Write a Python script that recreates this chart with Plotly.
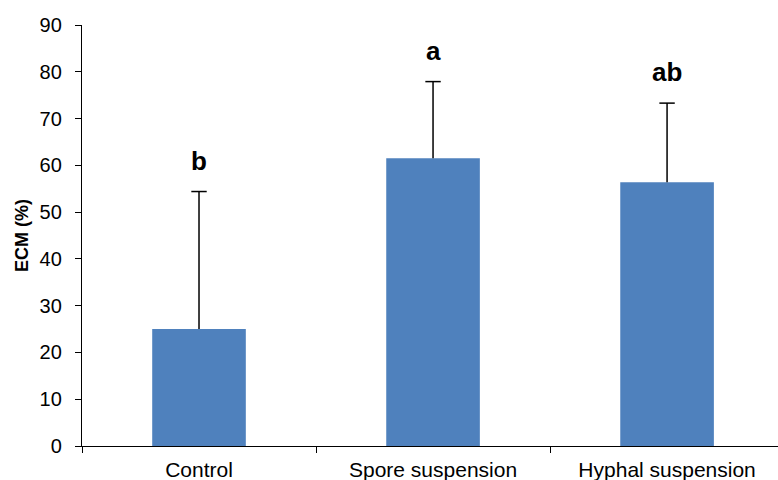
import plotly.graph_objects as go

categories = ["Control", "Spore suspension", "Hyphal suspension"]
ecm_mean = [25.0, 61.5, 56.4]
ecm_err = [29.4, 16.4, 16.9]
sig_letters = ["b", "a", "ab"]
y_ticks = [0, 10, 20, 30, 40, 50, 60, 70, 80, 90]

FONT = "Arial, Liberation Sans, sans-serif"
err_top = [m + e for m, e in zip(ecm_mean, ecm_err)]

fig = go.Figure()
fig.add_trace(go.Bar(
    x=categories,
    y=ecm_mean,
    width=0.4,
    marker=dict(color="#4F81BD", line=dict(width=0)),
    error_y=dict(type="data", symmetric=False, array=ecm_err,
                 arrayminus=[0] * len(ecm_err),
                 color="black", thickness=1.5, width=0),
    showlegend=False,
))
# top caps of the error bars
fig.add_trace(go.Scatter(
    x=categories, y=err_top, mode="markers",
    marker=dict(symbol="line-ew-open", size=11, color="black",
                line=dict(width=1.5, color="black")),
    showlegend=False, hoverinfo="skip",
))

for cat, t, lab in zip(categories, err_top, sig_letters):
    fig.add_annotation(x=cat, y=t, text=f"<b>{lab}</b>", showarrow=False,
                       yanchor="bottom", yshift=14,
                       font=dict(family=FONT, size=26, color="black"))

fig.update_layout(
    width=778, height=480,
    margin=dict(l=82, r=0, t=25, b=34),
    plot_bgcolor="white", paper_bgcolor="white",
    font=dict(family=FONT, color="black"),
)
fig.update_xaxes(
    type="category",
    range=[-0.5, 2.474],
    showline=True, linecolor="black", linewidth=1.3,
    ticks="outside", ticklen=6, tickcolor="black", tickwidth=1.3,
    tickson="boundaries",
    tickfont=dict(family=FONT, size=21, color="black"),
    showgrid=False, zeroline=False,
    ticklabelstandoff=5,
)
fig.update_yaxes(
    range=[0, 90],
    tickvals=y_ticks,
    showline=True, linecolor="black", linewidth=1.3,
    ticks="outside", ticklen=6, tickcolor="black", tickwidth=1.3,
    tickfont=dict(family=FONT, size=20, color="black"),
    showgrid=False, zeroline=False,
    ticklabelstandoff=9,
    title=dict(text="<b>ECM (%)</b>", font=dict(family=FONT, size=18, color="black"),
               standoff=6),
)

fig.write_html("out.html")
